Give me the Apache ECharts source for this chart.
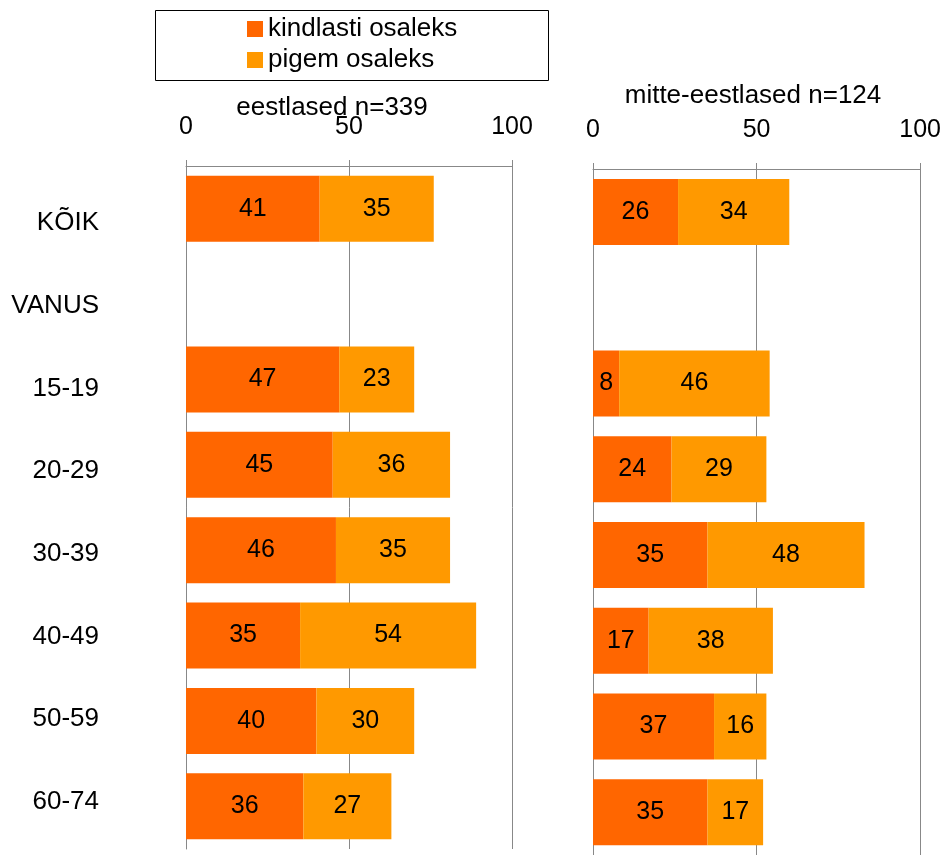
<!DOCTYPE html>
<html>
<head>
<meta charset="utf-8">
<script src="https://cdn.jsdelivr.net/npm/echarts@6/dist/echarts.min.js"></script>
<style>
html, body { margin: 0; padding: 0; background: #fff; }
#chart { width: 944px; height: 855px; }
</style>
</head>
<body>
<div id="chart"></div>
<script>
// andmed
var categories = ['KÕIK', 'VANUS', '15-19', '20-29', '30-39', '40-49', '50-59', '60-74'];
var estKindlasti = [41, null, 47, 45, 46, 35, 40, 36];
var estPigem = [35, null, 23, 36, 35, 54, 30, 27];
var mitteKindlasti = [26, null, 8, 24, 35, 17, 37, 35];
var mittePigem = [34, null, 46, 29, 48, 38, 16, 17];
var xTicks = [0, 50, 100];
var seriesNames = ['kindlasti osaleks', 'pigem osaleks'];
var panelTitles = ['eestlased n=339', 'mitte-eestlased n=124'];

var FONT = '"Liberation Sans", Arial, sans-serif';
var GREY = '#888888';
var C1 = '#FF6600';
var C2 = '#FF9900';

var myChart = echarts.init(document.getElementById('chart'));

function xAxisFor(gridIndex) {
	return {
		gridIndex: gridIndex,
		type: 'value',
		position: 'top',
		min: xTicks[0],
		max: xTicks[xTicks.length - 1],
		interval: xTicks[1] - xTicks[0],
		axisLine: { show: true, lineStyle: { color: GREY, width: 1 } },
		axisTick: { show: true, length: 6, lineStyle: { color: GREY } },
		axisLabel: { color: '#000', fontSize: 25, fontFamily: FONT, margin: 26 },
		splitLine: { show: true, lineStyle: { color: GREY, width: 1 } }
	};
}

function yAxisFor(gridIndex) {
	return {
		gridIndex: gridIndex,
		type: 'category',
		inverse: true,
		data: categories,
		axisLine: { show: true, lineStyle: { color: GREY, width: 1 } },
		axisTick: { show: false },
		axisLabel: { show: false },
		splitLine: { show: false }
	};
}

function barSeries(name, data, idx, stack, color) {
	return {
		name: name,
		type: 'bar',
		stack: stack,
		xAxisIndex: idx,
		yAxisIndex: idx,
		barWidth: 66,
		itemStyle: { color: color },
		label: {
			show: true,
			position: 'inside',
			color: '#000',
			fontSize: 25,
			fontFamily: FONT
		},
		data: data
	};
}

var option = {
	backgroundColor: '#fff',
	animation: false,
	title: [
		{ text: panelTitles[0], left: 332, top: 95, textAlign: 'center', padding: 0,
		  textStyle: { fontSize: 26, fontWeight: 'normal', color: '#000', fontFamily: FONT } },
		{ text: panelTitles[1], left: 753, top: 83, textAlign: 'center', padding: 0,
		  textStyle: { fontSize: 26, fontWeight: 'normal', color: '#000', fontFamily: FONT } }
	],
	legend: {
		data: seriesNames,
		orient: 'vertical',
		left: 247,
		top: 16,
		padding: 0,
		itemWidth: 16,
		itemHeight: 16,
		itemGap: 5,
		icon: 'rect',
		textStyle: { fontSize: 26, color: '#000', fontFamily: FONT }
	},
	graphic: [{
		type: 'rect',
		left: 153,
		top: 8,
		shape: { width: 393, height: 70 },
		style: { fill: 'none', stroke: '#000', lineWidth: 1 }
	}],
	grid: [
		{ left: 186, top: 166, width: 326, height: 683 },
		{ left: 593, top: 169, width: 328, height: 690 },
		{ left: 108, top: 182, width: 10, height: 661 }
	],
	xAxis: [
		xAxisFor(0),
		xAxisFor(1),
		{ gridIndex: 2, type: 'value', show: false }
	],
	yAxis: [
		yAxisFor(0),
		yAxisFor(1),
		{
			gridIndex: 2,
			type: 'category',
			inverse: true,
			data: categories,
			axisLine: { show: false },
			axisTick: { show: false },
			axisLabel: { color: '#000', fontSize: 26, fontFamily: FONT, margin: 9 }
		}
	],
	series: [
		barSeries(seriesNames[0], estKindlasti, 0, 'est', C1),
		barSeries(seriesNames[1], estPigem, 0, 'est', C2),
		barSeries(seriesNames[0], mitteKindlasti, 1, 'mitte', C1),
		barSeries(seriesNames[1], mittePigem, 1, 'mitte', C2)
	]
};

myChart.setOption(option);

window.addEventListener('resize', function() {
	myChart.resize();
});
</script>
</body>
</html>
